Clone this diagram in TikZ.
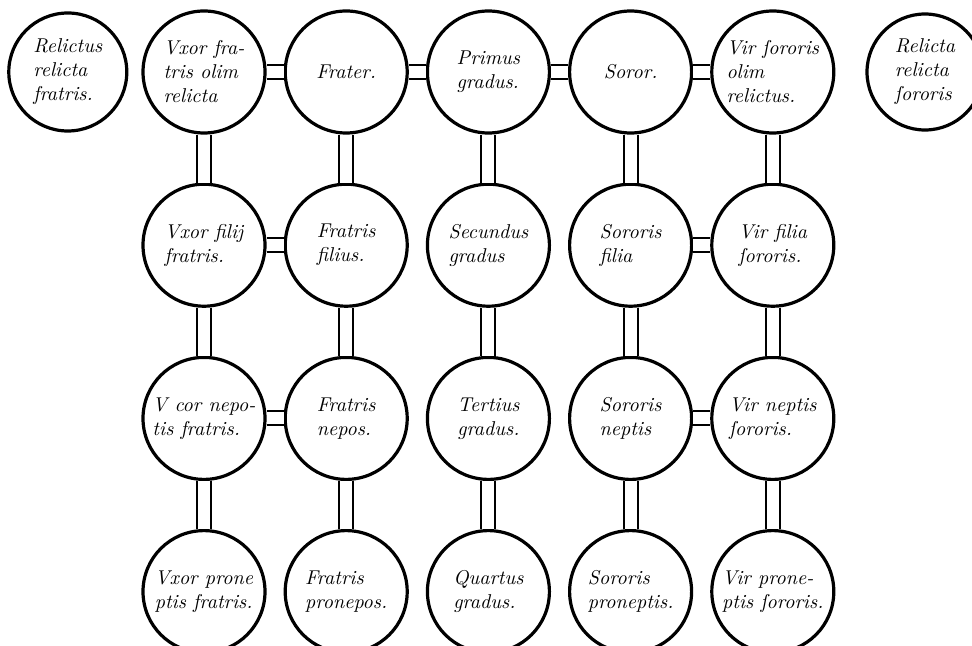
\documentclass[tikz,border=0pt]{standalone}
\usepackage{fontspec}
\usetikzlibrary{positioning}

\begin{document}
\begin{tikzpicture}[
  node distance=24pt and 8.5pt,
  deg/.style={circle, draw, line width=1.6pt, minimum size=61pt, inner sep=0pt,
    align=left, font=\itshape\fontsize{10}{12}\selectfont},
  every edge/.style={draw, line width=1pt, double, double distance=6pt}
]
  \useasboundingbox (0,0) rectangle (486pt,-323pt);

  % first row
  \node[deg] (vxorfra) at (102pt,-36pt) {Vxor fra-\\tris olim\\relicta};
  \node[deg, right=of vxorfra] (frater) {Frater.};
  \node[deg, right=of frater] (primus) {Primus\\gradus.};
  \node[deg, right=of primus] (soror) {Soror.};
  \node[deg, right=of soror] (virsor) {Vir ſororis\\olim\\relictus.};
  \node[deg, minimum size=59pt, left=6.5pt of vxorfra] (relfra) {Relictus\\relicta\\fratris.};
  \node[deg, minimum size=58pt, right=15pt of virsor] (relsor) {Relicta\\relicta\\ſororis};

  % second row
  \node[deg, below=of vxorfra] (vxorfil) {Vxor filij\\fratris.};
  \node[deg, right=of vxorfil] (fratfil) {Fratris\\filius.};
  \node[deg, right=of fratfil] (secundus) {Secundus\\gradus};
  \node[deg, right=of secundus] (sorfil) {Sororis\\filia};
  \node[deg, right=of sorfil] (virfil) {Vir filia\\ſororis.};

  % third row
  \node[deg, below=of vxorfil] (vxornep) {V cor nepo-\\tis fratris.};
  \node[deg, right=of vxornep] (fratnep) {Fratris\\nepos.};
  \node[deg, right=of fratnep] (tertius) {Tertius\\gradus.};
  \node[deg, right=of tertius] (sornep) {Sororis\\neptis};
  \node[deg, right=of sornep] (virnep) {Vir neptis\\ſororis.};

  % fourth row
  \node[deg, below=of vxornep] (vxorpron) {Vxor prone\\ptis fratris.};
  \node[deg, right=of vxorpron] (fratpron) {Fratris\\pronepos.};
  \node[deg, right=of fratpron] (quartus) {Quartus\\gradus.};
  \node[deg, right=of quartus] (sorpron) {Sororis\\proneptis.};
  \node[deg, right=of sorpron] (virpron) {Vir prone-\\ptis ſororis.};

  \path (vxorfra) edge (frater)
        (frater) edge (primus)
        (primus) edge (soror)
        (soror) edge (virsor)
        (vxorfil) edge (fratfil)
        (sorfil) edge (virfil)
        (vxornep) edge (fratnep)
        (sornep) edge (virnep);

  \path (vxorfra) edge (vxorfil)
        (frater) edge (fratfil)
        (primus) edge (secundus)
        (soror) edge (sorfil)
        (virsor) edge (virfil)
        (vxorfil) edge (vxornep)
        (fratfil) edge (fratnep)
        (secundus) edge (tertius)
        (sorfil) edge (sornep)
        (virfil) edge (virnep)
        (vxornep) edge (vxorpron)
        (fratnep) edge (fratpron)
        (tertius) edge (quartus)
        (sornep) edge (sorpron)
        (virnep) edge (virpron);
\end{tikzpicture}
\end{document}
